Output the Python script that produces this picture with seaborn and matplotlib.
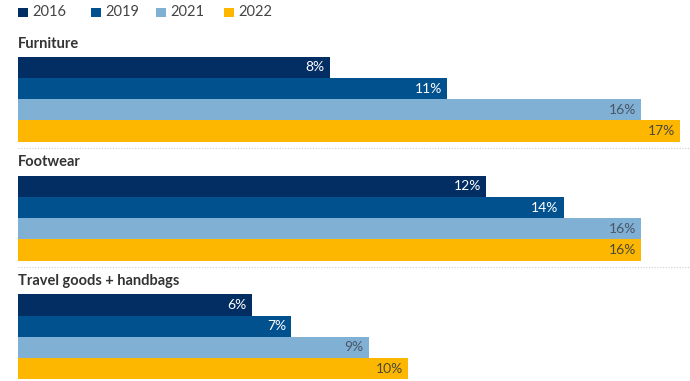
import matplotlib
matplotlib.use("Agg")
import matplotlib.pyplot as plt
from matplotlib.patches import Rectangle
from matplotlib.lines import Line2D
import pandas as pd
import seaborn as sns

# Share of imports by product group and year (%)
categories = ["Furniture", "Footwear", "Travel goods + handbags"]
years = ["2016", "2019", "2021", "2022"]
furniture = [8, 11, 16, 17]
footwear = [12, 14, 16, 16]
travel_goods = [6, 7, 9, 10]

colors = ["#032e63", "#02518f", "#80b0d4", "#fdb700"]
label_colors = ["white", "white", "#4a5566", "#4a4a3a"]

sns.set_theme(style="white")
plt.rcParams["font.family"] = ["Lato", "DejaVu Sans"]

series = [furniture, footwear, travel_goods]
frames = [pd.DataFrame({"year": years, "value": vals}) for vals in series]

W, H = 690, 381
fig = plt.figure(figsize=(W / 100, H / 100), dpi=100)

# panel geometry in pixels (top, bottom) for the bar block and the title centre
left_px, right_px = 18, 689
panels = [(56.7, 141.7, 43.5), (175.7, 260.7, 162.5), (294.3, 379.3, 281.5)]
xmax = 17.22

for cat, df, (top, bot, ty) in zip(categories, frames, panels):
    ax = fig.add_axes([left_px / W, (H - bot) / H,
                       (right_px - left_px) / W, (bot - top) / H])
    sns.barplot(data=df, x="value", y="year", hue="year", palette=colors,
                order=years, hue_order=years, width=1.0, orient="h",
                errorbar=None, legend=False, ax=ax, linewidth=0, saturation=1)
    ax.set_xlim(0, xmax)
    ax.set_ylim(3.5, -0.5)
    ax.axis("off")
    for bar in ax.patches:
        w = bar.get_width()
        yi = int(round(bar.get_y() + bar.get_height() / 2))
        ax.annotate(f"{w:.0f}%", (w, bar.get_y() + bar.get_height() / 2),
                    xytext=(-3.5, 0), textcoords="offset points",
                    ha="right", va="center", fontsize=10,
                    color=label_colors[yi])
    fig.text(left_px / W, (H - ty) / H, cat, ha="left", va="center",
             fontsize=10.5, fontweight="bold", color="#333333")

# dotted separators between groups
for ypx in (147.5, 266.5):
    fig.add_artist(Line2D([left_px / W, 1.0], [(H - ypx) / H] * 2,
                          transform=fig.transFigure, color="#cfcfcf",
                          linestyle=(0, (1, 1.5)), linewidth=0.8))

# legend row
legend_x = [18, 91, 156, 224]
for x0, yr, c in zip(legend_x, years, colors):
    fig.add_artist(Rectangle((x0 / W, (H - 17) / H), 10 / W, 9.5 / H,
                             transform=fig.transFigure, facecolor=c,
                             edgecolor="none"))
    fig.text((x0 + 14) / W, (H - 12.5) / H, yr, ha="left", va="center",
             fontsize=10.5, color="#444444")

fig.savefig("out.png", dpi=100)
